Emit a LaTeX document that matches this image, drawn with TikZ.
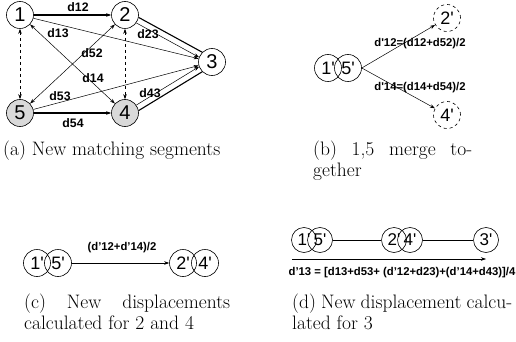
\documentclass[tikz,border=0pt]{standalone}
\usepackage{fontspec}
\newfontfamily\lsans{Liberation Sans}
\usetikzlibrary{arrows.meta}
\begin{document}
\begin{tikzpicture}[x=1pt,y=-1pt,
  num/.style={circle,draw,line width=0.6pt,minimum size=27pt,inner sep=0pt,font=\lsans\fontsize{20}{20}\selectfont},
  gnum/.style={num,fill=black!15},
  pnum/.style={circle,draw,line width=0.6pt,minimum size=27pt,inner sep=0pt,font=\lsans\fontsize{18}{18}\selectfont},
  dnum/.style={pnum,dashed},
  lab/.style={font=\lsans\bfseries\fontsize{11.3}{11.3}\selectfont,inner sep=1pt},
  laba/.style={lab,font=\lsans\bfseries\fontsize{12.3}{12.3}\selectfont},
  thinline/.style={line width=0.5pt},
  heavy/.style={line width=1.1pt},
  arr/.style={-{Stealth[length=5pt,width=3.5pt]}},
  both/.style={{Stealth[length=5pt,width=3.5pt]}-{Stealth[length=5pt,width=3.5pt]}},
  captxt/.style={anchor=base west,inner sep=0pt,font=\fontsize{19.5}{21}\selectfont}
]
\useasboundingbox (0,0) rectangle (516,342);
% (a)
\node[num] (n1) at (20,15) {1};
\node[num] (n2) at (125,15) {2};
\node[num] (n3) at (212,62) {3};
\node[gnum] (n5) at (20,113) {5};
\node[gnum] (n4) at (125,113) {4};
\draw[heavy,arr] (n1) -- (n2);
\draw[heavy,arr] (n5) -- (n4);
\draw[thinline,arr] (n1) -- (n3);
\draw[thinline,arr] (n5) -- (n3);
\draw[thinline,arr] (n2.-35) -- (n3.160);
\draw[heavy] (n2.-10) -- (n3.135);
\draw[thinline,arr] (n4.35) -- (n3.200);
\draw[heavy] (n4.10) -- (n3.225);
\draw[thinline,both] (n5) -- (n2);
\draw[thinline,both] (n1) -- (n4);
\draw[thinline,dashed,both] (n1) -- (n5);
\draw[thinline,dashed,both] (n2) -- (n4);
\node[laba] (l12) at (78,7) {d12};
\node[laba] (l13) at (58,33) {d13};
\node[laba] (l52) at (92,53) {d52};
\node[laba] (l23) at (148,34) {d23};
\node[laba] (l14) at (93,78) {d14};
\node[laba] (l53) at (60,96) {d53};
\node[laba] (l43) at (150,93) {d43};
\node[laba] (l54) at (73,123) {d54};
\node[captxt] (ca) at (3,155) {(a) New matching segments};
% (b)
\node[pnum] (b1) at (328,68) {1'};
\node[pnum] (b5) at (348,68) {5'};
\node[dnum] (b2) at (447,18) {2'};
\node[dnum] (b4) at (447,115) {4'};
\draw[thinline,arr] (b5.east) -- (b2);
\draw[thinline,arr] (b5.east) -- (b4);
\node[lab] (lb1) at (420,44) {d'12=(d12+d52)/2};
\node[lab] (lb2) at (420,88) {d'14=(d14+d54)/2};
\node[captxt] (cb1) at (313,155) {\makebox[159pt][s]{(b) 1,5 merge to-}};
\node[captxt] (cb2) at (313,176) {gether};
% (c)
\node[pnum] (c1) at (37,263) {1'};
\node[pnum] (c5) at (58,263) {5'};
\node[pnum] (c2) at (183,263) {2'};
\node[pnum] (c4) at (205,263) {4'};
\draw[thinline,arr] (c5) -- (c2);
\node[lab] (lc) at (122,248) {(d’12+d’14)/2};
\node[captxt] (cc1) at (24,308) {\makebox[206pt][s]{(c) New displacements}};
\node[captxt] (cc2) at (24,329) {calculated for 2 and 4};
% (d)
\node[pnum,minimum size=25pt,font=\lsans\fontsize{17}{17}\selectfont] (d1) at (304,240) {1'};
\node[pnum,minimum size=25pt,font=\lsans\fontsize{17}{17}\selectfont] (d5) at (320,240) {5'};
\node[pnum,minimum size=25pt,font=\lsans\fontsize{17}{17}\selectfont] (d2) at (394,240) {2'};
\node[pnum,minimum size=25pt,font=\lsans\fontsize{17}{17}\selectfont] (d4) at (410,240) {4'};
\node[pnum,minimum size=25pt,font=\lsans\fontsize{17}{17}\selectfont] (d3) at (486,240) {3'};
\draw[thinline] (d5) -- (d2);
\draw[thinline] (d4) -- (d3);
\coordinate (da) at (292,259);
\coordinate (db) at (486,259);
\draw[thinline,arr] (da) -- (db);
\node[lab] (ld) at (402,273) {d’13 = [d13+d53+ (d’12+d23)+(d’14+d43)]/4};
\node[captxt] (cd1) at (292,308) {\makebox[220pt][s]{(d) New displacement calcu-}};
\node[captxt] (cd2) at (292,329) {lated for 3};
\end{tikzpicture}
\end{document}
